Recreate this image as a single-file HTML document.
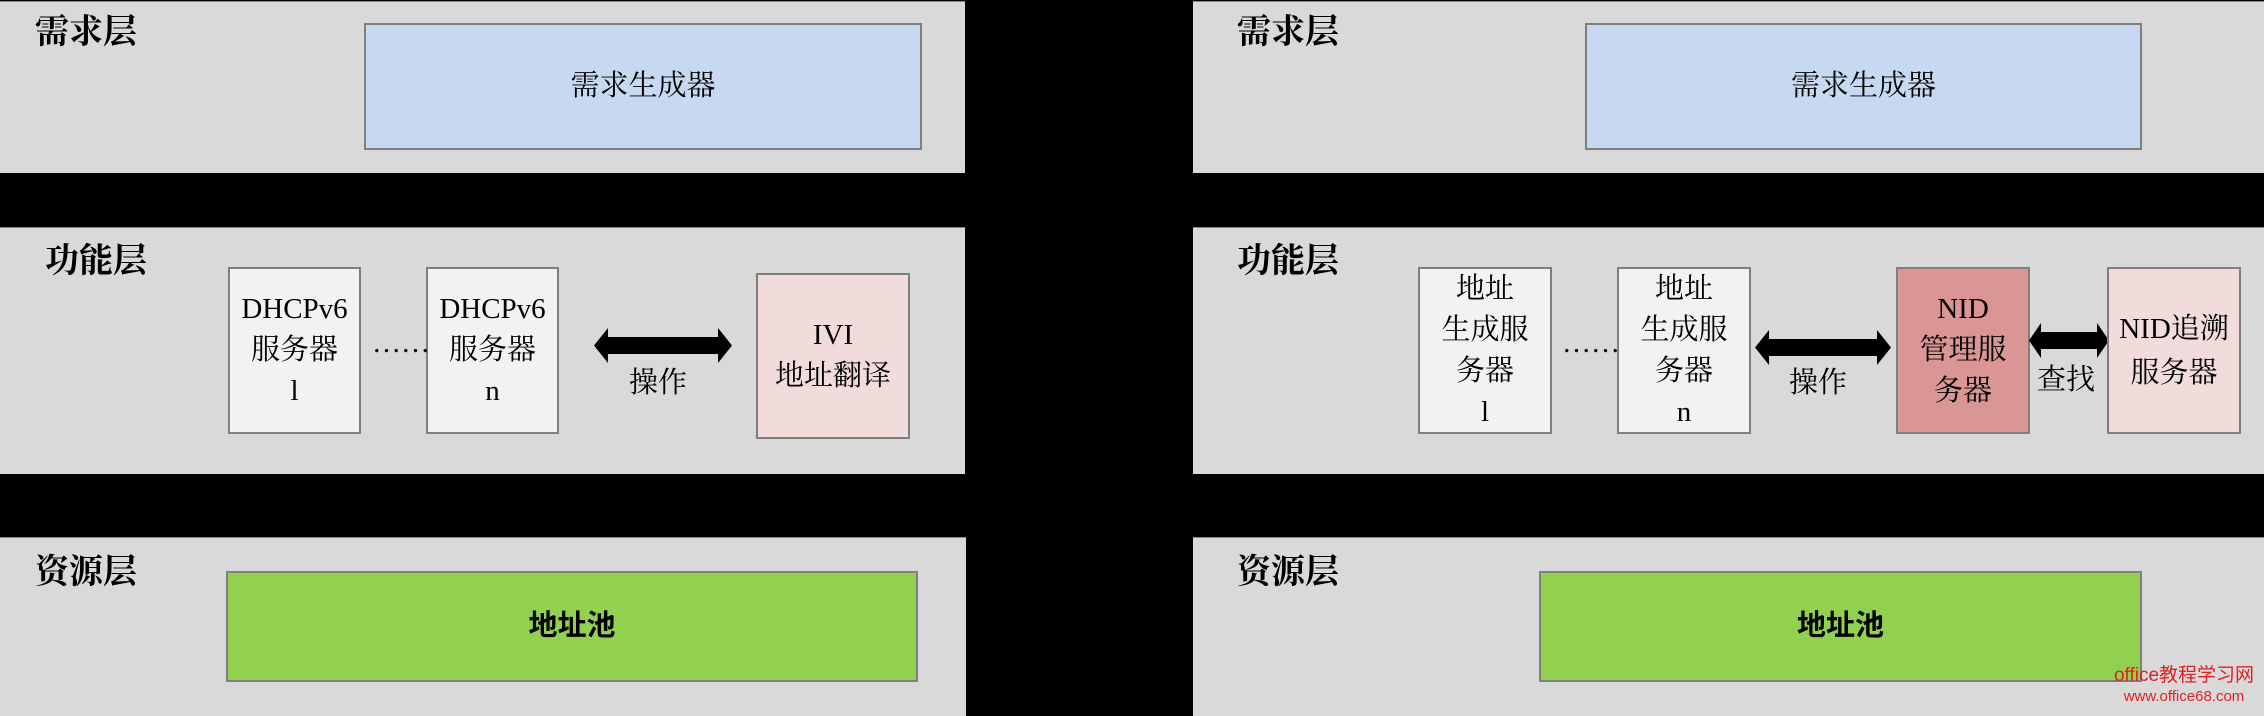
<!DOCTYPE html>
<html><head><meta charset="utf-8"><style>
body{margin:0;width:2264px;height:715px;background:#000;position:relative;overflow:hidden;font-family:"Liberation Serif","Noto Serif CJK SC",serif}
.p{position:absolute;background:#d9d9d9;border-top:1px solid #888}
.b{position:absolute;border:2px solid #7f7f7f;box-sizing:border-box;display:flex;align-items:center;justify-content:center;text-align:center;font-size:29px;line-height:41px;color:#000}
.h{position:absolute;font-family:"Liberation Serif","Noto Serif CJK SC",serif;font-weight:bold;font-size:34px;line-height:36px;color:#000}
.t{position:absolute;font-size:29px;line-height:30px}
</style></head><body>
<div class="p" style="left:0;top:1px;width:965px;height:171px"></div>
<div class="p" style="left:0;top:227px;width:965px;height:246px"></div>
<div class="p" style="left:0;top:537px;width:966px;height:178px"></div>
<div class="h" style="left:35px;top:15px">需求层</div>
<div class="h" style="left:45px;top:244px">功能层</div>
<div class="h" style="left:35px;top:555px">资源层</div>
<div class="b" style="left:364px;top:23px;width:558px;height:127px;background:#c6d9f0">需求生成器</div>
<div class="b" style="left:228px;top:267px;width:133px;height:167px;background:#f2f2f2">DHCPv6<br>服务器<br>l</div>
<div class="b" style="left:426px;top:267px;width:133px;height:167px;background:#f2f2f2">DHCPv6<br>服务器<br>n</div>
<div class="t" style="left:372px;top:328px">……</div>
<div class="b" style="left:756px;top:273px;width:154px;height:166px;background:#f2dcdb">IVI<br>地址翻译</div>
<svg style="position:absolute;left:594px;top:328px" width="138" height="35"><polygon points="0,17.5 14,0 14,9 124,9 124,0 138,17.5 124,35 124,26 14,26 14,35" fill="#000"/></svg>
<div class="t" style="left:629px;top:368px">操作</div>
<div class="b" style="left:226px;top:571px;width:692px;height:111px;background:#92d050;font-weight:bold;font-family:'Liberation Sans','Noto Sans CJK SC',sans-serif">地址池</div>
<div class="p" style="left:1193px;top:1px;width:1071px;height:171px"></div>
<div class="p" style="left:1193px;top:227px;width:1071px;height:246px"></div>
<div class="p" style="left:1193px;top:537px;width:1071px;height:178px"></div>
<div class="h" style="left:1237px;top:15px">需求层</div>
<div class="h" style="left:1237px;top:244px">功能层</div>
<div class="h" style="left:1237px;top:555px">资源层</div>
<div class="b" style="left:1585px;top:23px;width:557px;height:127px;background:#c6d9f0">需求生成器</div>
<div class="b" style="left:1418px;top:267px;width:134px;height:167px;background:#f2f2f2">地址<br>生成服<br>务器<br>l</div>
<div class="b" style="left:1617px;top:267px;width:134px;height:167px;background:#f2f2f2">地址<br>生成服<br>务器<br>n</div>
<div class="t" style="left:1562px;top:328px">……</div>
<svg style="position:absolute;left:1755px;top:330px" width="136" height="35"><polygon points="0,17.5 14,0 14,9 122,9 122,0 136,17.5 122,35 122,26 14,26 14,35" fill="#000"/></svg>
<div class="t" style="left:1789px;top:368px">操作</div>
<div class="b" style="left:1896px;top:267px;width:134px;height:167px;background:#d99694">NID<br>管理服<br>务器</div>
<svg style="position:absolute;left:2029px;top:323px" width="80" height="35"><polygon points="0,17.5 12,0 12,9 68,9 68,0 80,17.5 68,35 68,26 12,26 12,35" fill="#000"/></svg>
<div class="t" style="left:2037px;top:365px">查找</div>
<div class="b" style="left:2107px;top:267px;width:134px;height:167px;background:#f2dcdb;line-height:44px">NID追溯<br>服务器</div>
<div class="b" style="left:1539px;top:571px;width:603px;height:111px;background:#92d050;font-weight:bold;font-family:'Liberation Sans','Noto Sans CJK SC',sans-serif">地址池</div>
<div style="position:absolute;left:2104px;top:666px;font-family:'Liberation Sans','Noto Sans CJK SC',sans-serif;font-size:19px;line-height:20px;color:#e02020;text-align:center;width:160px">office教程学习网<br><span style="font-size:15px">www.office68.com</span></div>
</body></html>
